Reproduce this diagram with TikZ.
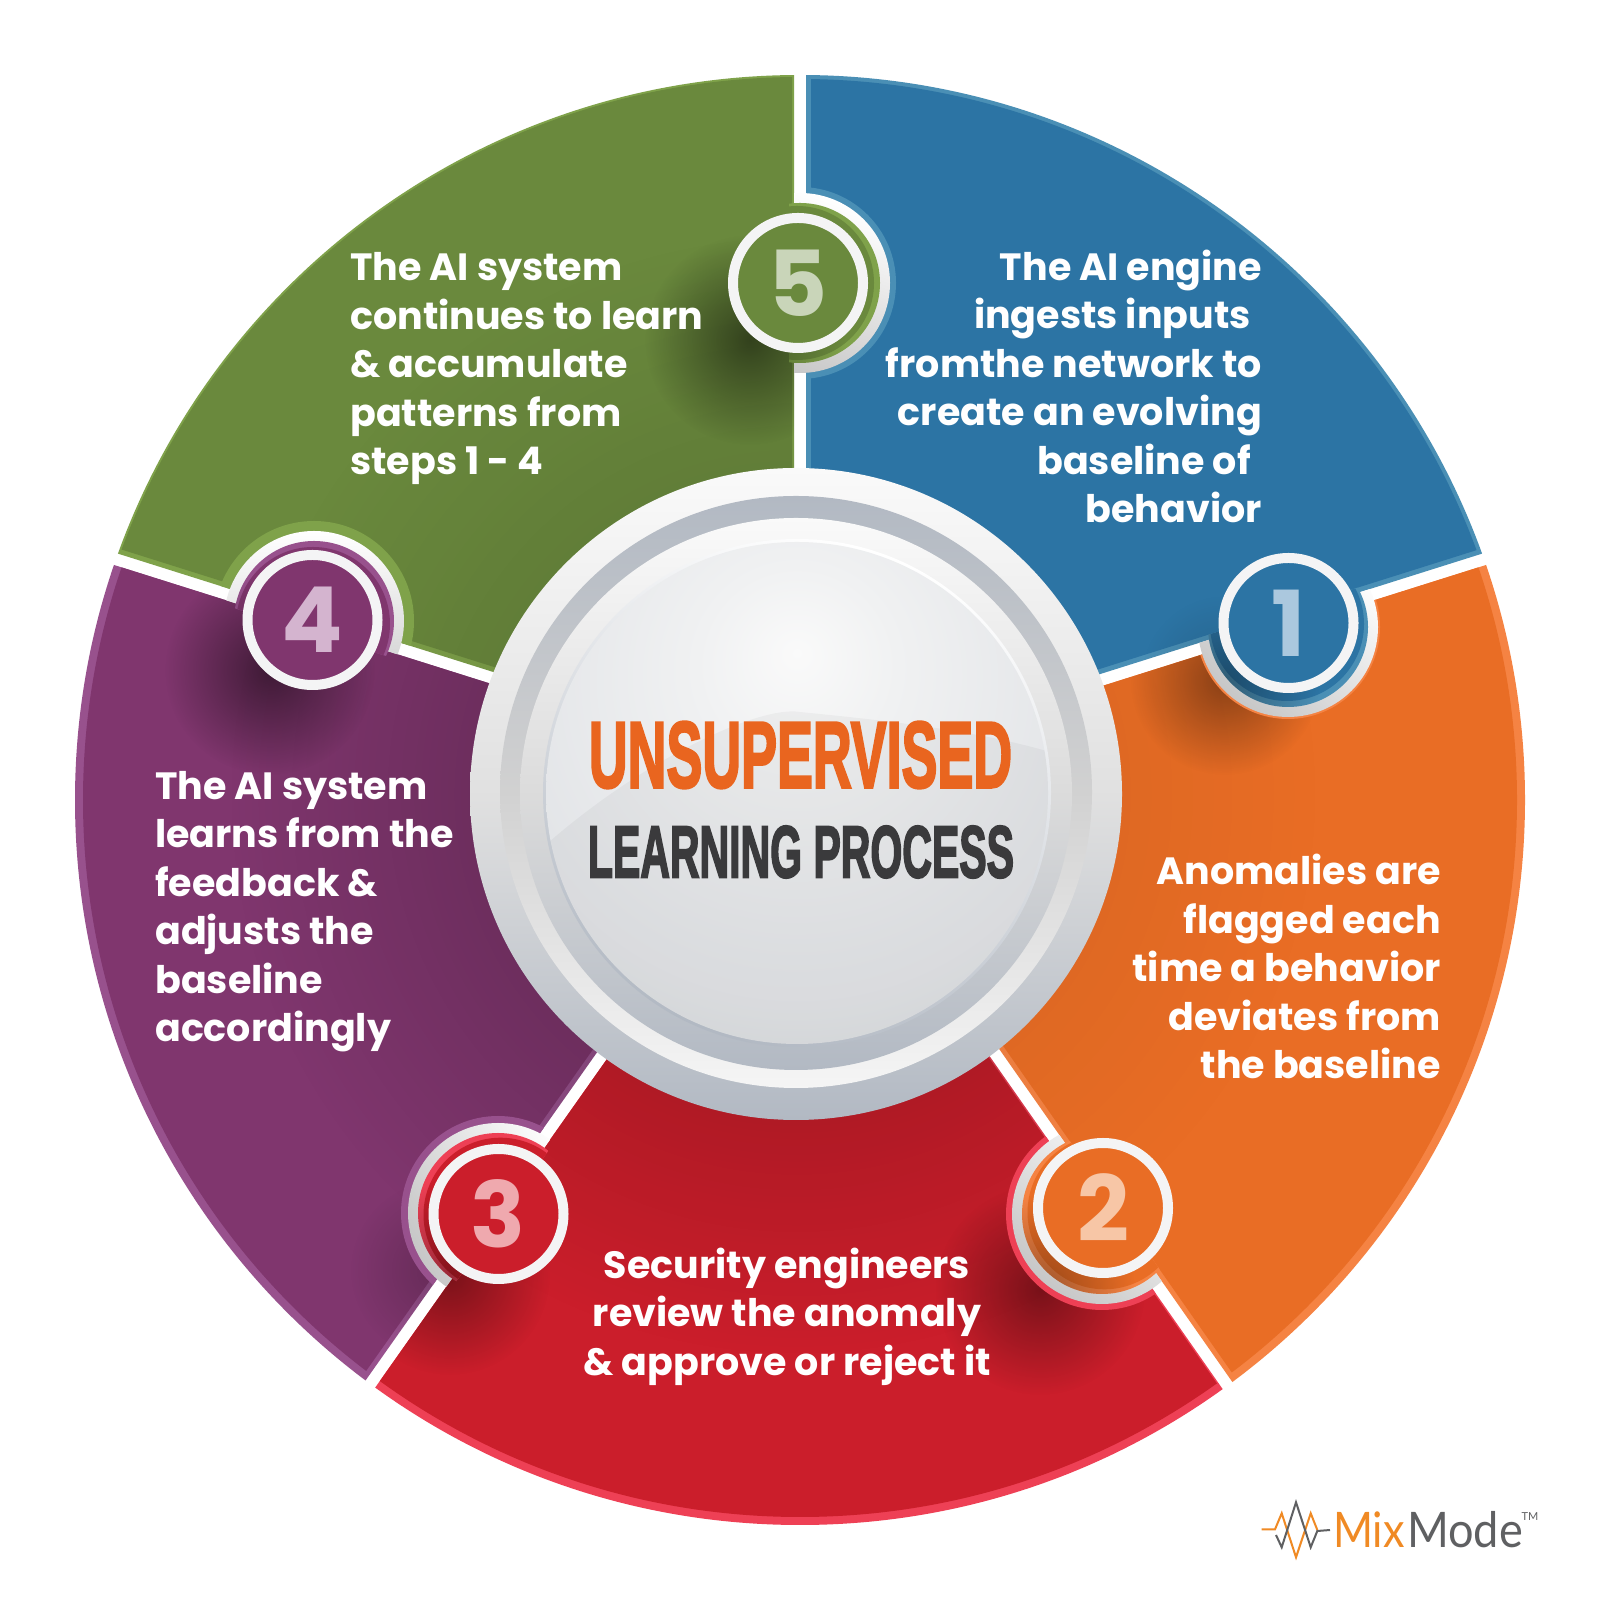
\documentclass[tikz,border=0pt]{standalone}
\usetikzlibrary{fadings}
\usepackage{fontspec}
\setmainfont{Poppins}
\newfontfamily\numfont{Poppins}
\newfontfamily\headfont[BoldFeatures={FakeBold=3}]{Liberation Sans}
\newfontfamily\logofont{Lato}
\definecolor{bluemain}{HTML}{2C74A4}\definecolor{bluerim}{HTML}{4A8FB5}\definecolor{bluetint}{HTML}{ABC8DE}
\definecolor{greenmain}{HTML}{6A893D}\definecolor{greenrim}{HTML}{7FA24A}\definecolor{greentint}{HTML}{C9D5B9}
\definecolor{purplemain}{HTML}{80366E}\definecolor{purplerim}{HTML}{98518D}\definecolor{purpletint}{HTML}{D4B4CF}
\definecolor{redmain}{HTML}{CB1E2B}\definecolor{redrim}{HTML}{EE4055}\definecolor{redtint}{HTML}{EFA9AE}
\definecolor{orangemain}{HTML}{E96D25}\definecolor{orangerim}{HTML}{F58343}\definecolor{orangetint}{HTML}{F7C6A6}
\definecolor{ringwhite}{HTML}{F4F4F5}
\definecolor{hubgrey}{HTML}{B2B9C3}
\definecolor{headorange}{HTML}{E9651F}\definecolor{headdark}{HTML}{3A3A3C}
\definecolor{logoorange}{HTML}{F08A24}\definecolor{logogrey}{HTML}{5F6062}
\definecolor{HubA}{HTML}{E2E4E7}\definecolor{HubB}{HTML}{B6BBC3}\definecolor{HubC}{HTML}{F0F1F2}
\pgfdeclareradialshading{hubdisc}{\pgfpoint{0bp}{14bp}}{color(0bp)=(white!98!black);color(10bp)=(HubC);color(30bp)=(HubA);color(66bp)=(HubB);color(100bp)=(HubB)}
\tikzfading[name=softdot,inner color=transparent!0,outer color=transparent!100]
% half plane on one side (#3 = 1 counter-clockwise of the ray, -1 clockwise) of a ray from the apex, moved inward by #2
\newcommand\edgeclip[3]{%
  \pgfmathsetmacro\en{#1+90*#3}%
  \path (800,825) ++(\en:#2pt) coordinate (eB);
  \clip (eB) ++(#1:3000pt) -- ++(\en:3000pt) -- ++(#1:-6000pt) -- ++(\en:-3000pt) -- cycle;}
\newcommand\wedgeclip[3]{\edgeclip{#1}{#3}{1}\edgeclip{#2}{#3}{-1}}
\newcommand\softblob[3]{\fill[black,fill opacity=#3,path fading=softdot] (#1) circle[radius=#2pt];}
% a, b, name, offset on edge a, offset on edge b, radius of the main fill, extras
\newcommand\makesector[7]{%
  \begin{scope}\wedgeclip{#1}{#2}{6}
    \fill[#3rim] (800,800) circle[radius=725pt];
    \begin{scope}\edgeclip{#1}{#4}{1}\edgeclip{#2}{#5}{-1}\fill[#3main] (800,800) circle[radius=#6pt];\end{scope}
    #7
  \end{scope}}
\newcommand\makebump[9]{%
  \begin{scope}\wedgeclip{#2}{#3}{6}\fill[#4rim] (#1) circle[radius=#9pt];\end{scope}
  \begin{scope}\wedgeclip{#2}{#3}{-6}\shade[top color=white,middle color=white,bottom color=black!22,shading angle=#8] (#1) circle[radius=90pt];\end{scope}
  \begin{scope}\wedgeclip{#2}{#3}{-11}
    \fill[#5rim] (#1) circle[radius=80pt];
    \clip (#1) circle[radius=80pt];
    \fill[#5main] ([shift={(#6)}]#1) circle[radius=77pt];
    \softblob{#7}{95}{.35}
  \end{scope}}
\tikzset{
  badge/.style={circle,draw=ringwhite,line width=10pt,minimum size=130pt,inner sep=0pt,text depth=0pt,font=\numfont\bfseries\fontsize{91}{91}\selectfont},
  stepnote/.style={text=white,inner sep=0pt,font=\bfseries\fontsize{38}{48.5}\selectfont},
  logoline/.style={line width=2pt,line join=miter}
}
\begin{document}
\begin{tikzpicture}[x=1pt,y=1pt]
\useasboundingbox (0,0) rectangle (1600,1600);
\fill[white] (0,0) rectangle (1600,1600);
% sectors
\makesector{17.5}{90}{blue}{11}{11}{721}{\softblob{1225,920}{85}{.15}}
\makesector{90}{162.5}{green}{8}{11}{723}{\softblob{796,806}{560}{.19}\softblob{750,1260}{105}{.5}}
\makesector{162.5}{234.8}{purple}{6}{11}{717}{\softblob{796,806}{566}{.33}\softblob{270,930}{105}{.5}\softblob{440,330}{90}{.2}}
\makesector{234.8}{305}{red}{6}{7.5}{717}{\softblob{796,806}{560}{.31}\softblob{450,325}{100}{.4}\softblob{1040,310}{105}{.4}}
\makesector{305}{377.5}{orange}{11}{6}{717}{\softblob{796,806}{526}{.1}\softblob{1225,920}{95}{.4}}
% bumps around the badges
\makebump{1288,973}{305}{377.5}{orange}{blue}{-1,3}{1225,920}{-40}{92}
\makebump{1102,386}{234.8}{305}{red}{orange}{2.5,1.7}{1040,310}{-40}{96}
\makebump{498,387}{162.5}{234.8}{purple}{red}{2.5,-1.7}{450,325}{-60}{97}
\makebump{314,979}{90}{162.5}{green}{purple}{-1,-3}{270,930}{0}{100}
\makebump{800,1317}{17.5}{90}{blue}{green}{-3,0}{750,1260}{-20}{96}
% badges
\node[badge,fill=bluemain,text=bluetint] (b1) at (1288.5,977) {1};
\node[badge,fill=orangemain,text=orangetint] (b2) at (1103,392) {2};
\node[badge,fill=redmain,text=redtint] (b3) at (498.5,386) {3};
\node[badge,fill=purplemain,text=purpletint] (b4) at (312.5,980) {4};
\node[badge,fill=greenmain,text=greentint] (b5) at (798,1317) {5};
% hub
\shade[top color=white!98!black,bottom color=hubgrey,middle color=white!88!black] (796,806) circle[radius=326pt];
\shade[top color=hubgrey,bottom color=white!96!black,middle color=white!82!black] (796,808) circle[radius=296pt];
\shade[top color=white!98!black,bottom color=hubgrey,middle color=white!86!black] (796,806) circle[radius=276pt];
\shade[left color=white,right color=hubgrey,shading angle=-20] (797,807) circle[radius=254pt];
\shade[shading=hubdisc] (797,807) circle[radius=251pt];
\begin{scope}
  \clip (797,807) circle[radius=251pt];
  \fill[black,opacity=.035] (540,750) .. controls (640,840) and (760,895) .. (800,888) .. controls (880,880) and (980,870) .. (1060,845) -- (1060,540) -- (540,540) -- cycle;
\end{scope}
\node[inner sep=0pt,text=headorange,font=\headfont\bfseries\fontsize{94}{95}\selectfont] (title) at (800.5,845) {\scalebox{.572}[1]{UNSUPERVISED}};
\node[inner sep=0pt,text=headdark,font=\headfont\bfseries\fontsize{73.5}{75}\selectfont] (subtitle) at (801,748) {\scalebox{.558}[1]{LEARNING PROCESS}};
% step texts
\node[stepnote,anchor=east,align=right] (t1) at (1262,1208) {\strut The AI engine\\ingests inputs\hspace*{11pt}\hbox{}\\fromthe network to\\create an evolving\\baseline of\hspace*{11pt}\hbox{}\\behavior\strut};
\node[stepnote,anchor=east,align=right] (t2) at (1441,628) {\strut Anomalies are\\flagged each\\time a behavior\\deviates from\\the baseline\strut};
\node[stepnote,anchor=center,align=center] (t3) at (787,283) {\strut Security engineers\\review the anomaly\\\& approve or reject it\strut};
\node[stepnote,anchor=west,align=left] (t4) at (155,689) {\strut The AI system\\learns from the\\feedback \&\\adjusts the\\baseline\\accordingly\strut};
\node[stepnote,anchor=west,align=left] (t5) at (350,1232) {\strut The AI system\\continues to learn\\\& accumulate\\patterns from\\steps 1 - 4\strut};
% logo
\draw[logoline,logoorange] (1261.7,70.7) -- (1275,70.7) -- (1281.7,86.7) -- (1296,42.7) -- (1310.7,86.7) -- (1317.3,70);
\draw[logoline,logogrey] (1276,65) -- (1281.7,52.7) -- (1296,97.7) -- (1310.7,52.7) -- (1317.3,69) -- (1330,70);
\node[inner sep=0pt,anchor=base west,text=logoorange,font=\logofont\fontsize{49}{49}\selectfont] (logomix) at (1333,52) {\scalebox{.88}[1]{Mix}};
\node[inner sep=0pt,anchor=base west,text=logogrey,font=\logofont\fontsize{49}{49}\selectfont] (logomode) at (1407,52) {\scalebox{.92}[1]{Mode}};
\node[inner sep=0pt,anchor=base west,text=logogrey,font=\logofont\fontsize{11}{11}\selectfont] (logotm) at (1521.5,79) {TM};
\end{tikzpicture}
\end{document}
